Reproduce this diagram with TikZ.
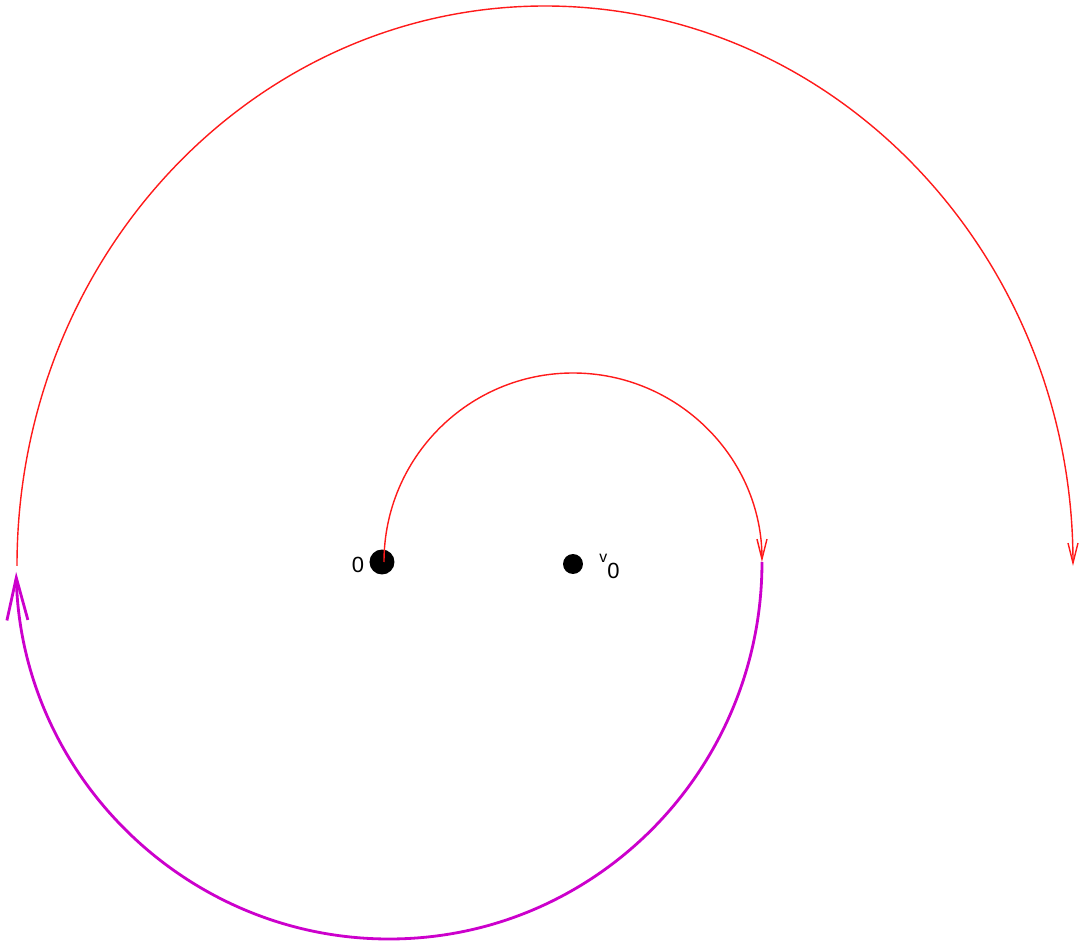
\documentclass[tikz,border=0pt]{standalone}
\usepackage{fontspec}
\setsansfont{Liberation Sans}
\usetikzlibrary{arrows.meta,positioning}
\definecolor{path1}{HTML}{FF1A1A}
\definecolor{path2}{HTML}{CC00CC}

\tikzset{
  pt/.style={circle,fill=black,inner sep=0pt},
  lbl/.style={font=\sffamily\fontsize{12.5}{13}\selectfont,inner sep=1pt},
  redarc/.style={draw=path1,line width=0.8pt,-{Straight Barb[length=0.4cm,width=0.2cm]}},
  magarc/.style={draw=path2,line width=1.6pt,-{Straight Barb[length=0.85cm,width=0.42cm]}}
}

\begin{document}
\begin{tikzpicture}[x=0.02cm,y=0.02cm]
  \path[fill=white] (-381,-385) rectangle (699,562);

  % the two marked points
  \node[pt,minimum size=0.5cm] (orig) at (1,0) {};
  \node[pt,minimum size=0.4cm] (vz) at (192,-2) {};
  \node[lbl,left=0.06cm of orig,yshift=-0.06cm] (origlbl) {0};
  \node[lbl,right=0.28cm of vz,yshift=-0.05cm] (vzlbl) {\raisebox{0.5ex}{\fontsize{9}{10}\selectfont v}\raisebox{-0.9ex}{0}};

  % start points of the arcs
  \coordinate (s1) at (3,0);
  \coordinate (s2) at (381,0);
  \coordinate (s3) at (-364,-4);

  \draw[redarc] (s1) arc[start angle=180,end angle=0,radius=189];
  \draw[magarc] (s2) arc[start angle=0,end angle=-178.5,x radius=373,y radius=377];
  \draw[redarc] (s3) arc[start angle=180,end angle=0,x radius=528,y radius=560];
\end{tikzpicture}
\end{document}
